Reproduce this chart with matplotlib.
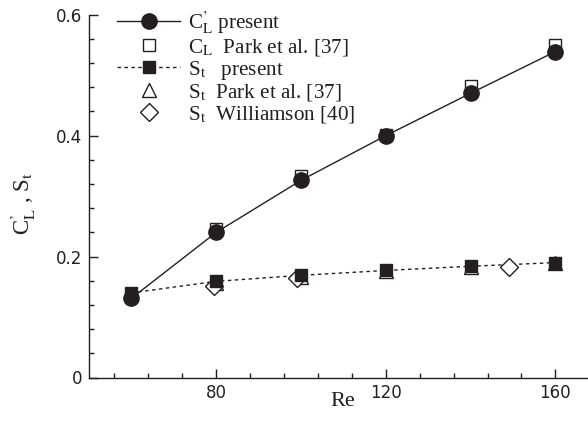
import matplotlib
matplotlib.use("Agg")
import matplotlib.pyplot as plt
from matplotlib.lines import Line2D
from matplotlib.ticker import MultipleLocator

# Data
re_present = [60, 80, 100, 120, 140, 160]
cl_present = [0.131, 0.240, 0.326, 0.400, 0.470, 0.539]
st_present = [0.140, 0.159, 0.169, 0.177, 0.184, 0.190]

re_park = [80, 100, 120, 140, 160]
cl_park = [0.246, 0.334, 0.401, 0.482, 0.550]
st_park = [0.157, 0.167, 0.176, 0.183, 0.190]

re_williamson = [79.5, 99, 149]
st_williamson = [0.152, 0.165, 0.182]

xticks = [80, 120, 160]
yticks = [0, 0.2, 0.4, 0.6]
ytick_labels = ['0', '0.2', '0.4', '0.6']

ink = '#231f20'
serif = 'Liberation Serif'
plt.rcParams['mathtext.fontset'] = 'stix'
plt.rcParams['font.family'] = 'DejaVu Sans'

W, H = 588, 434
fig = plt.figure(figsize=(W / 100, H / 100), dpi=100)
left, bottom, top = 89, 377.5, 14.7
ax = fig.add_axes([left / W, 1 - bottom / H, 1 - left / W, (bottom - top) / H])

# lines underneath, open markers, then filled markers on top
ax.plot(re_present, cl_present, '-', color=ink, lw=1.0, zorder=1)
ax.plot(re_present, st_present, color=ink, lw=1.0, ls=(0, (2.5, 2.5)), zorder=1)

ax.plot(re_park, cl_park, 's', ms=8.5, mfc='white', mec=ink, mew=1.0, zorder=2)
ax.plot(re_park, st_park, '^', ms=9.5, mfc='white', mec=ink, mew=1.0, zorder=2)
ax.plot(re_williamson, st_williamson, 'D', ms=9, mfc='white', mec=ink, mew=1.0, zorder=2)

ax.plot(re_present, cl_present, 'o', ms=11, color=ink, zorder=3)
ax.plot(re_present, st_present, 's', ms=8, color=ink, zorder=3)

ax.set_xlim(50, 50 + (W - left) / 4.24)
ax.set_ylim(0, 0.6)
ax.set_xticks(xticks)
ax.set_yticks(yticks)
ax.set_yticklabels(ytick_labels)
ax.xaxis.set_minor_locator(MultipleLocator(8))
ax.yaxis.set_minor_locator(MultipleLocator(0.04))
ax.tick_params(which='both', direction='in', colors=ink, labelsize=12, width=1.0)
ax.tick_params(which='major', length=6.5, pad=5)
ax.tick_params(which='minor', length=3.6)
for s in ['top', 'right']:
    ax.spines[s].set_visible(False)
for s in ['left', 'bottom']:
    ax.spines[s].set_color(ink)
    ax.spines[s].set_linewidth(1.0)

ax.set_xlabel('Re', family=serif, fontsize=16, color=ink, va='center')
ax.xaxis.set_label_coords(0.509, -0.066)
ax.set_ylabel(r"C$^{\mathrm{’}}_{\mathrm{L}}$ , S$_{\mathrm{t}}$", family=serif,
              fontsize=16.5, color=ink, va='center')
ax.yaxis.set_label_coords(-0.132, 0.48)

handles = [
    Line2D([], [], color=ink, lw=1.0, marker='o', ms=11),
    Line2D([], [], ls='none', marker='s', ms=8.5, mfc='white', mec=ink, mew=1.0),
    Line2D([], [], color=ink, lw=1.0, ls=(0, (2.5, 2.5)), marker='s', ms=8),
    Line2D([], [], ls='none', marker='^', ms=9.5, mfc='white', mec=ink, mew=1.0),
    Line2D([], [], ls='none', marker='D', ms=9, mfc='white', mec=ink, mew=1.0),
]
labels = [
    r"C$^{\mathrm{’}}_{\mathrm{L}}$ present",
    r"C$_{\mathrm{L}}$  Park et al. [37]",
    r"S$_{\mathrm{t}}$   present",
    r"S$_{\mathrm{t}}$  Park et al. [37]",
    r"S$_{\mathrm{t}}$  Williamson [40]",
]
leg = ax.legend(handles, labels, loc='upper left', bbox_to_anchor=(0.056, 1.014),
                frameon=False, borderpad=0, borderaxespad=0, handlelength=3.0,
                handletextpad=0.35, labelspacing=0.03, numpoints=1,
                prop={'family': serif, 'size': 15.2})
for t in leg.get_texts():
    t.set_color(ink)

fig.savefig('out.png', dpi=100)
